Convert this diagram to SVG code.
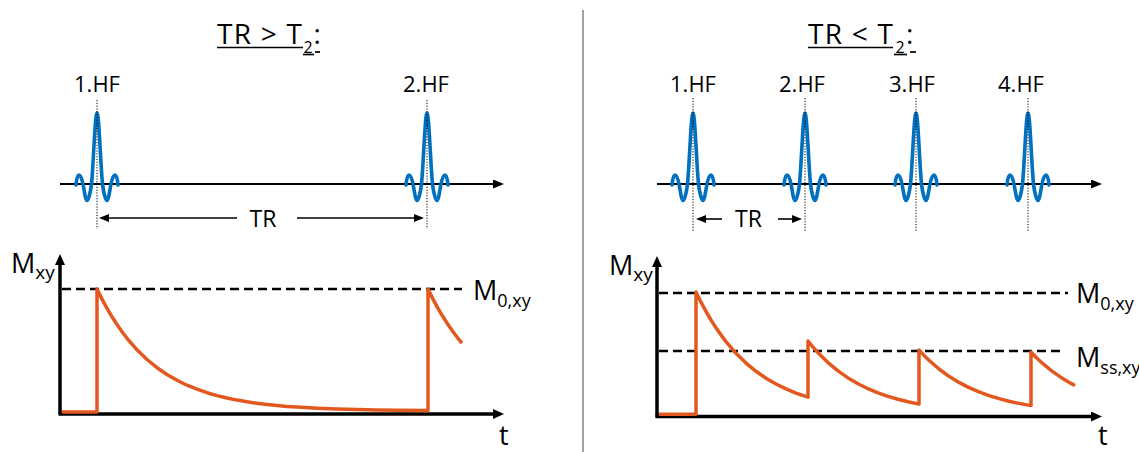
<svg xmlns="http://www.w3.org/2000/svg" width="1139" height="452" viewBox="0 0 1139 452">
<defs>
<style>
text{font-family:"Open Sans","Noto Sans","Liberation Sans",sans-serif;fill:#000}
.title{font-size:28px}
.hf{font-size:22px;text-anchor:middle}
.lbl{font-size:27px}
.ul{stroke:#000;stroke-width:1.7}
.axis{stroke:#000;stroke-width:2;fill:none}
.gaxis{stroke:#000;stroke-width:3.5;fill:none}
.dot{stroke:#000;stroke-width:1;stroke-dasharray:1.2 1.6;fill:none}
.dash{stroke:#000;stroke-width:2.5;stroke-dasharray:9 5;fill:none}
.tr{stroke:#000;stroke-width:1.6;fill:none}
.mag{stroke:#E2581E;stroke-width:3.5;fill:none;stroke-linejoin:round}
.pulse{stroke:#0070C0;stroke-width:3.6;fill:none;stroke-linecap:round}
</style>
<path id="pulse" class="pulse" d="M-21,1 C-20.5,-5 -19.5,-9 -18,-9 C-16.5,-9 -15,-5 -14,0 C-13,5 -11.5,16.5 -10,16.5 C-8.5,16.5 -6.5,8 -5.5,0 C-3.5,-20 -2,-71 0,-71 C2,-71 3.5,-20 5.5,0 C6.5,8 8.5,16.5 10,16.5 C11.5,16.5 13,5 14,0 C15,-5 16.5,-9 18,-9 C19.5,-9 20.5,-5 21,1"/>
<marker id="ah" markerUnits="userSpaceOnUse" markerWidth="12" markerHeight="10" refX="1" refY="4.5" orient="auto"><path d="M0,0 L11,4.5 L0,9 z" fill="#000"/></marker>
<marker id="ahb" markerUnits="userSpaceOnUse" markerWidth="12" markerHeight="10" refX="1" refY="5" orient="auto"><path d="M0,0 L11,5 L0,10 z" fill="#000"/></marker>
<marker id="ahs" markerUnits="userSpaceOnUse" markerWidth="11" markerHeight="9" refX="1" refY="4" orient="auto"><path d="M0,0 L10,4 L0,8 z" fill="#000"/></marker>
</defs>
<rect width="1139" height="452" fill="#fff"/>

<line id="separator" x1="583" y1="10" x2="583" y2="452" stroke="#444" stroke-width="1"/>

<g id="left-panel">
  <g id="left-title">
    <text class="title" x="217" y="43.5" textLength="85" lengthAdjust="spacing">TR &gt; T</text>
    <text x="303.5" y="53" font-size="16">2</text>
    <text class="title" x="313.5" y="43.5">:</text>
    <line class="ul" x1="217" y1="47.5" x2="303" y2="47.5"/>
    <line class="ul" x1="303" y1="54.5" x2="314" y2="54.5"/>
    <line class="ul" x1="315" y1="52" x2="320" y2="52"/>
  </g>
  <g id="left-rf">
    <line class="axis" x1="60" y1="184" x2="494" y2="184" marker-end="url(#ah)"/>
    <use href="#pulse" x="97" y="184"/>
    <use href="#pulse" x="427" y="184"/>
    <line class="dot" x1="97" y1="100" x2="97" y2="229"/>
    <line class="dot" x1="427" y1="100" x2="427" y2="229"/>
    <text class="hf" x="97" y="92">1.HF</text>
    <text class="hf" x="426" y="92">2.HF</text>
  </g>
  <g id="left-tr">
    <line class="tr" x1="237" y1="218" x2="108" y2="218" marker-end="url(#ahs)"/>
    <line class="tr" x1="297" y1="218" x2="415" y2="218" marker-end="url(#ahs)"/>
    <text x="263" y="227" font-size="23" text-anchor="middle">TR</text>
  </g>
  <g id="left-graph">
    <line class="gaxis" x1="60" y1="414" x2="60" y2="264" marker-end="url(#ahb)"/>
    <line class="gaxis" x1="58.5" y1="414" x2="494" y2="414" marker-end="url(#ahb)"/>
    <line class="dash" x1="62" y1="289" x2="462" y2="289"/>
    <path class="mag" d="M62,412 L97,412 L97,289 L102,299.1 L107,308.3 L112,316.8 L117,324.6 L122,331.7 L127,338.3 L137,349.8 L147,359.5 L157,367.7 L167,374.5 L177,380.3 L187,385.2 L197,389.2 L207,392.7 L217,395.6 L227,398 L237,400.1 L247,401.8 L257,403.3 L267,404.5 L277,405.5 L287,406.4 L297,407.1 L317,408.3 L337,409.1 L357,409.6 L377,410 L397,410.3 L428,410.6 L428,289 L433,299.1 L438,308.3 L443,316.8 L448,324.6 L453,331.7 L458,338.3 L462,343.1"/>
    <text class="lbl" x="11" y="273">M<tspan font-size="19" dy="6">xy</tspan></text>
    <text class="lbl" x="473" y="299.5">M<tspan font-size="18" dy="7">0,xy</tspan></text>
    <text class="lbl" x="499" y="445">t</text>
  </g>
</g>

<g id="right-panel">
  <g id="right-title">
    <text class="title" x="808" y="43.5" textLength="85" lengthAdjust="spacing">TR &lt; T</text>
    <text x="895.5" y="53" font-size="16">2</text>
    <text class="title" x="906" y="43.5">:</text>
    <line class="ul" x1="808" y1="47.5" x2="893" y2="47.5"/>
    <line class="ul" x1="894" y1="54.5" x2="907" y2="54.5"/>
    <line class="ul" x1="910" y1="52" x2="916" y2="52"/>
  </g>
  <g id="right-rf">
    <line class="axis" x1="657" y1="184" x2="1092" y2="184" marker-end="url(#ah)"/>
    <use href="#pulse" x="693" y="184"/>
    <use href="#pulse" x="805" y="184"/>
    <use href="#pulse" x="916" y="184"/>
    <use href="#pulse" x="1028" y="184"/>
    <line class="dot" x1="693" y1="98" x2="693" y2="232"/>
    <line class="dot" x1="805" y1="98" x2="805" y2="232"/>
    <line class="dot" x1="916" y1="98" x2="916" y2="232"/>
    <line class="dot" x1="1028" y1="98" x2="1028" y2="232"/>
    <text class="hf" x="693" y="92">1.HF</text>
    <text class="hf" x="802" y="92">2.HF</text>
    <text class="hf" x="912" y="92">3.HF</text>
    <text class="hf" x="1021" y="92">4.HF</text>
  </g>
  <g id="right-tr">
    <line class="tr" x1="722" y1="219" x2="705" y2="219" marker-end="url(#ahs)"/>
    <line class="tr" x1="778" y1="219" x2="793" y2="219" marker-end="url(#ahs)"/>
    <text x="748.5" y="227" font-size="23" text-anchor="middle">TR</text>
  </g>
  <g id="right-graph">
    <line class="gaxis" x1="657" y1="417" x2="657" y2="266" marker-end="url(#ahb)"/>
    <line class="gaxis" x1="655.5" y1="416.5" x2="1092" y2="416.5" marker-end="url(#ahb)"/>
    <line class="dash" x1="659" y1="293" x2="1068" y2="293"/>
    <line class="dash" x1="659" y1="351" x2="1063" y2="351"/>
    <path class="mag" d="M659,414.3 L696,414.3 L696,292 L701,302.2 L706,311.5 L711,320 L716,327.9 L726,341.7 L736,353.3 L746,363.1 L756,371.3 L766,378.2 L776,384 L786,388.9 L796,393.1 L808,397.2 L808,341 L813,347.1 L818,352.7 L828,362.6 L838,370.9 L848,377.9 L858,383.8 L868,388.7 L878,392.9 L888,396.4 L898,399.3 L908,401.8 L919,404.1 L919,350 L924,355.4 L929,360.3 L939,369 L949,376.3 L959,382.4 L969,387.6 L979,391.9 L989,395.6 L999,398.6 L1009,401.2 L1019,403.4 L1031,405.6 L1031,352 L1036,357.2 L1041,362 L1051,370.4 L1061,377.4 L1071,383.4 L1075,385.5"/>
    <text class="lbl" x="609" y="275">M<tspan font-size="19" dy="6">xy</tspan></text>
    <text class="lbl" x="1076" y="302.5">M<tspan font-size="18" dy="7">0,xy</tspan></text>
    <text class="lbl" x="1076" y="366.5">M<tspan font-size="18" dy="7">ss,xy</tspan></text>
    <text class="lbl" x="1098" y="445">t</text>
  </g>
</g>
</svg>
